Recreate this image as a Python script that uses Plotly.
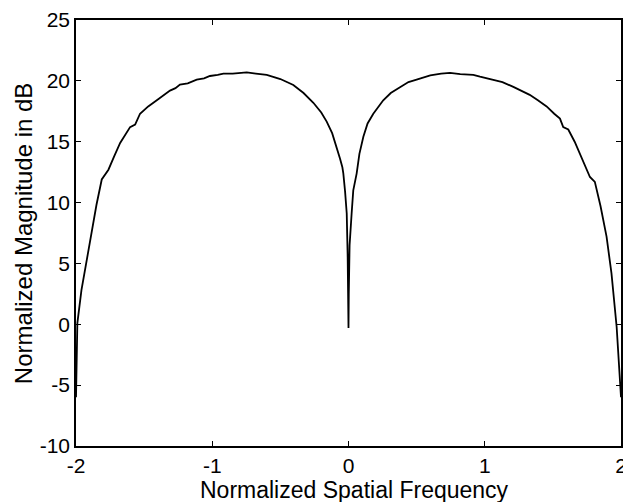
import plotly.graph_objects as go

# Left lobe (negative spatial frequency)
freq_left = [-2.0, -1.995, -1.99, -1.96, -1.92, -1.884, -1.85, -1.811, -1.762, -1.72,
             -1.676, -1.603, -1.566, -1.53, -1.47, -1.407, -1.35, -1.31, -1.27, -1.237,
             -1.18, -1.114, -1.06, -1.017, -0.96, -0.918, -0.85, -0.747, -0.68, -0.6,
             -0.5, -0.405, -0.33, -0.258, -0.2, -0.16, -0.12, -0.087, -0.062, -0.045,
             -0.038, -0.025, -0.013, -0.006, -0.002, 0.0]
mag_left = [-6.0, -2.0, 0.1, 2.8, 5.3, 7.8, 9.8, 11.9, 12.7, 13.8,
            14.9, 16.2, 16.4, 17.3, 17.9, 18.4, 18.9, 19.2, 19.4, 19.7,
            19.8, 20.1, 20.2, 20.4, 20.5, 20.6, 20.6, 20.7, 20.6, 20.5,
            20.15, 19.66, 19.0, 18.2, 17.4, 16.65, 15.7, 14.6, 13.6, 12.9,
            12.4, 10.9, 9.1, 5.5, 2.5, -0.3]

# Right lobe (positive spatial frequency)
freq_right = [0.002, 0.008, 0.023, 0.035, 0.06, 0.08, 0.109, 0.14, 0.182, 0.255,
              0.31, 0.378, 0.44, 0.5, 0.6, 0.68, 0.745, 0.82, 0.916, 0.965,
              1.06, 1.13, 1.21, 1.27, 1.33, 1.39, 1.454, 1.51, 1.552, 1.576,
              1.613, 1.66, 1.698, 1.74, 1.772, 1.808, 1.85, 1.894, 1.93, 1.968, 2.0]
mag_right = [2.5, 6.5, 9.1, 11.0, 12.4, 14.0, 15.4, 16.5, 17.3, 18.4,
             19.0, 19.5, 19.9, 20.1, 20.45, 20.6, 20.65, 20.55, 20.5, 20.35,
             20.1, 19.9, 19.5, 19.2, 18.85, 18.4, 17.9, 17.3, 16.9, 16.2,
             16.0, 15.0, 14.05, 13.0, 12.1, 11.7, 9.7, 7.2, 4.2, -0.2, -6.0]

x_ticks = [-2, -1, 0, 1, 2]
y_ticks = [-10, -5, 0, 5, 10, 15, 20, 25]

freq = freq_left + freq_right
mag = mag_left + mag_right

FONT = "Liberation Sans, Arial, Helvetica, sans-serif"

fig = go.Figure()
fig.add_trace(go.Scatter(x=freq, y=mag, mode="lines",
                         line=dict(color="black", width=1.8),
                         showlegend=False))

axis_common = dict(
    showgrid=False, zeroline=False, showline=True, linecolor="black",
    linewidth=1.5, mirror="ticks", ticks="inside", ticklen=5,
    tickwidth=1, tickcolor="black", automargin=False,
    ticklabeloverflow="allow",
    tickfont=dict(family=FONT, size=21, color="black"),
)

fig.update_xaxes(range=[-2, 2], tickvals=x_ticks,
                 ticktext=[str(v) for v in x_ticks], **axis_common)
fig.update_yaxes(range=[-10, 25], tickvals=y_ticks,
                 ticktext=[str(v) for v in y_ticks], **axis_common)

fig.update_layout(
    width=623, height=502,
    margin=dict(l=76, r=2, t=20, b=56, autoexpand=False),
    plot_bgcolor="white", paper_bgcolor="white",
    annotations=[
        dict(text="Normalized Spatial Frequency", xref="paper", yref="paper",
             x=0.511, y=-0.104, xanchor="center", yanchor="middle", showarrow=False,
             font=dict(family=FONT, size=23, color="black")),
        dict(text="Normalized Magnitude in dB", xref="paper", yref="paper",
             x=-0.097, y=0.5, xanchor="center", yanchor="middle", textangle=-90,
             showarrow=False, font=dict(family=FONT, size=24, color="black")),
    ],
)

# Remove the default page margin so the figure fills the window exactly.
fig.write_html("out.html",
               config={"displayModeBar": False},
               post_script="document.body.style.margin='0';"
                           "document.body.style.overflow='hidden';")
